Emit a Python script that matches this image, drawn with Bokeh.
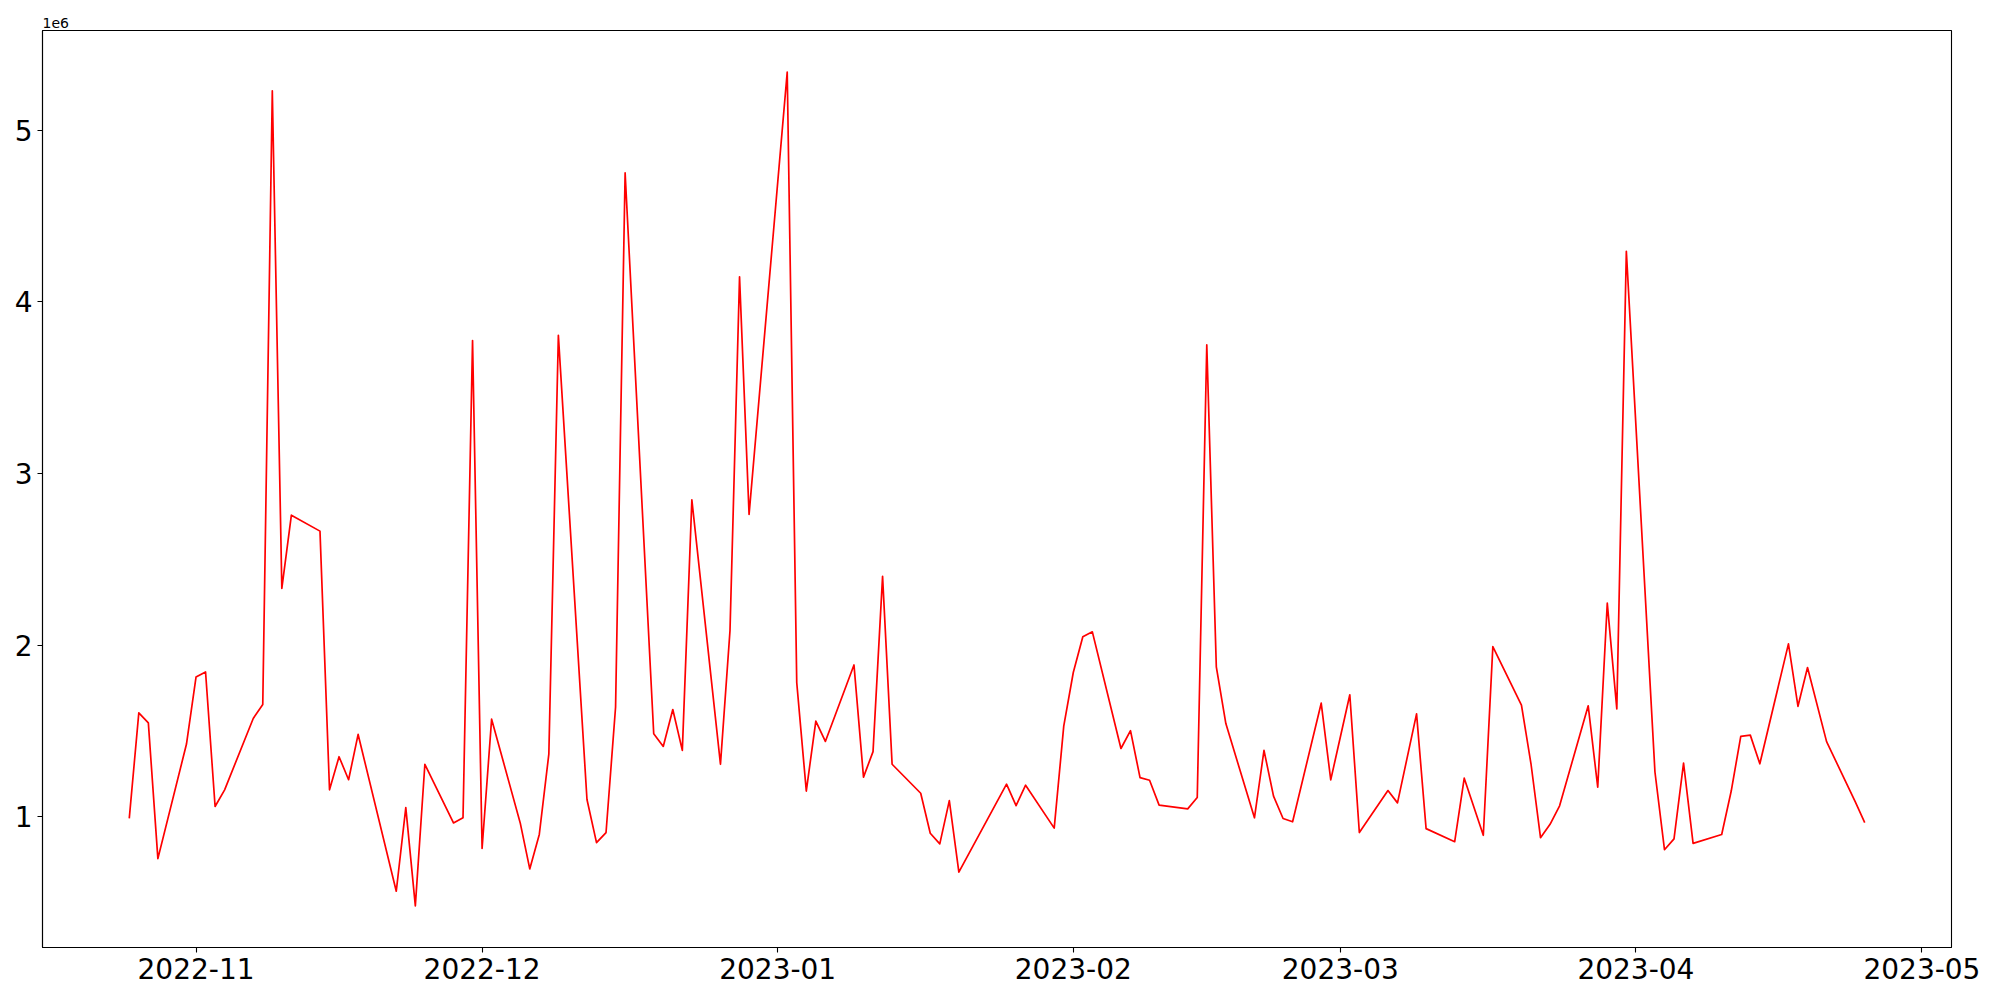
import pandas as pd
from bokeh.plotting import figure
from bokeh.models import Range1d, FixedTicker, MonthsTicker, DatetimeTickFormatter
from bokeh.embed import file_html
from bokeh.resources import INLINE

dates = [
    "2022-10-25", "2022-10-26", "2022-10-27", "2022-10-28", "2022-10-31",
    "2022-11-01", "2022-11-02", "2022-11-03", "2022-11-04", "2022-11-07",
    "2022-11-08", "2022-11-09", "2022-11-10", "2022-11-11", "2022-11-14",
    "2022-11-15", "2022-11-16", "2022-11-17", "2022-11-18", "2022-11-22",
    "2022-11-23", "2022-11-24", "2022-11-25", "2022-11-28", "2022-11-29",
    "2022-11-30", "2022-12-01", "2022-12-02", "2022-12-05", "2022-12-06",
    "2022-12-07", "2022-12-08", "2022-12-09", "2022-12-12", "2022-12-13",
    "2022-12-14", "2022-12-15", "2022-12-16", "2022-12-19", "2022-12-20",
    "2022-12-21", "2022-12-22", "2022-12-23", "2022-12-26", "2022-12-27",
    "2022-12-28", "2022-12-29", "2023-01-02", "2023-01-03", "2023-01-04",
    "2023-01-05", "2023-01-06", "2023-01-09", "2023-01-10", "2023-01-11",
    "2023-01-12", "2023-01-13", "2023-01-16", "2023-01-17", "2023-01-18",
    "2023-01-19", "2023-01-20", "2023-01-25", "2023-01-26", "2023-01-27",
    "2023-01-30", "2023-01-31", "2023-02-01", "2023-02-02", "2023-02-03",
    "2023-02-06", "2023-02-07", "2023-02-08", "2023-02-09", "2023-02-10",
    "2023-02-13", "2023-02-14", "2023-02-15", "2023-02-16", "2023-02-17",
    "2023-02-20", "2023-02-21", "2023-02-22", "2023-02-23", "2023-02-24",
    "2023-02-27", "2023-02-28", "2023-03-02", "2023-03-03", "2023-03-06",
    "2023-03-07", "2023-03-09", "2023-03-10", "2023-03-13", "2023-03-14",
    "2023-03-16", "2023-03-17", "2023-03-20", "2023-03-21", "2023-03-22",
    "2023-03-23", "2023-03-24", "2023-03-27", "2023-03-28", "2023-03-29",
    "2023-03-30", "2023-03-31", "2023-04-03", "2023-04-04", "2023-04-05",
    "2023-04-06", "2023-04-07", "2023-04-10", "2023-04-11", "2023-04-12",
    "2023-04-13", "2023-04-14", "2023-04-17", "2023-04-18", "2023-04-19",
    "2023-04-21", "2023-04-24", "2023-04-25",
]

values = [
    990000, 1605000, 1546000, 755000, 1423000,
    1813000, 1843000, 1059000, 1156000, 1572000,
    1654000, 5230000, 2330000, 2757000, 2664000,
    1156000, 1349000, 1215000, 1479000, 565000,
    1052000, 480000, 1305000, 963000, 993000,
    3775000, 814000, 1568000, 963000, 695000,
    896000, 1364000, 3805000, 1100000, 848000,
    907000, 1639000, 4752000, 1483000, 1409000,
    1624000, 1386000, 2846000, 1305000, 2085000,
    4146000, 2761000, 5339000, 1780000, 1149000,
    1557000, 1438000, 1884000, 1230000, 1379000,
    2400000, 1305000, 1136000, 903000, 841000,
    1093000, 676000, 1189000, 1064000, 1183000,
    933000, 1527000, 1840000, 2048000, 2077000,
    1397000, 1501000, 1227000, 1212000, 1067000,
    1045000, 1111000, 3749000, 1873000, 1542000,
    993000, 1386000, 1119000, 989000, 970000,
    1661000, 1214000, 1710000, 907000, 1152000,
    1080000, 1599000, 930000, 854000, 1224000,
    891000, 1991000, 1650000, 1308000, 877000,
    955000, 1063000, 1646000, 1171000, 2244000,
    1628000, 4295000, 1260000, 807000, 870000,
    1312000, 844000, 896000, 1149000, 1468000,
    1475000, 1308000, 2007000, 1643000, 1869000,
    1437000, 1087000, 965000,
]

y_ticks = [1000000, 2000000, 3000000, 4000000, 5000000]
y_tick_labels = ["1", "2", "3", "4", "5"]

x = pd.to_datetime(pd.Series(dates))
span = x.iloc[-1] - x.iloc[0]
x_start = x.iloc[0] - 0.05 * span
x_end = x.iloc[-1] + 0.05 * span
vmin, vmax = min(values), max(values)
vspan = vmax - vmin

p = figure(
    x_axis_type="datetime",
    frame_width=1909, frame_height=917,
    min_border_left=42, min_border_top=30, min_border_right=30, min_border_bottom=44,
    output_backend="svg", toolbar_location=None,
    x_range=Range1d(x_start, x_end),
    y_range=Range1d(vmin - 0.05 * vspan, vmax + 0.05 * vspan),
    title="1e6",
)

p.line(x, values, line_color="red", line_width=1.7, line_join="round")

p.title.align = "left"
p.title.text_font = "DejaVu Sans"
p.title.text_font_size = "14px"
p.title.text_font_style = "normal"
p.title.text_color = "black"
p.title.standoff = 5
p.title.offset = 0

p.xgrid.visible = False
p.ygrid.visible = False
p.outline_line_color = "black"
p.outline_line_width = 1.1
p.outline_line_alpha = 1.0
p.background_fill_color = "white"
p.border_fill_color = "white"

p.xaxis.ticker = MonthsTicker(months=list(range(12)))
p.xaxis.formatter = DatetimeTickFormatter(
    days="%Y-%m", months="%Y-%m", years="%Y-%m", hours="%Y-%m"
)
p.yaxis.ticker = FixedTicker(ticks=y_ticks)
p.yaxis.major_label_overrides = {t: l for t, l in zip(y_ticks, y_tick_labels)}

for ax in (p.xaxis, p.yaxis):
    ax.axis_line_color = "black"
    ax.axis_line_width = 1.1
    ax.major_tick_line_color = "black"
    ax.major_tick_line_width = 1.1
    ax.major_tick_out = 5
    ax.major_tick_in = 0
    ax.minor_tick_line_color = None
    ax.major_label_text_font = "DejaVu Sans"
    ax.major_label_text_font_size = "28px"
    ax.major_label_text_color = "black"
    ax.major_label_standoff = 5

open("out.html", "w").write(file_html(p, INLINE))
